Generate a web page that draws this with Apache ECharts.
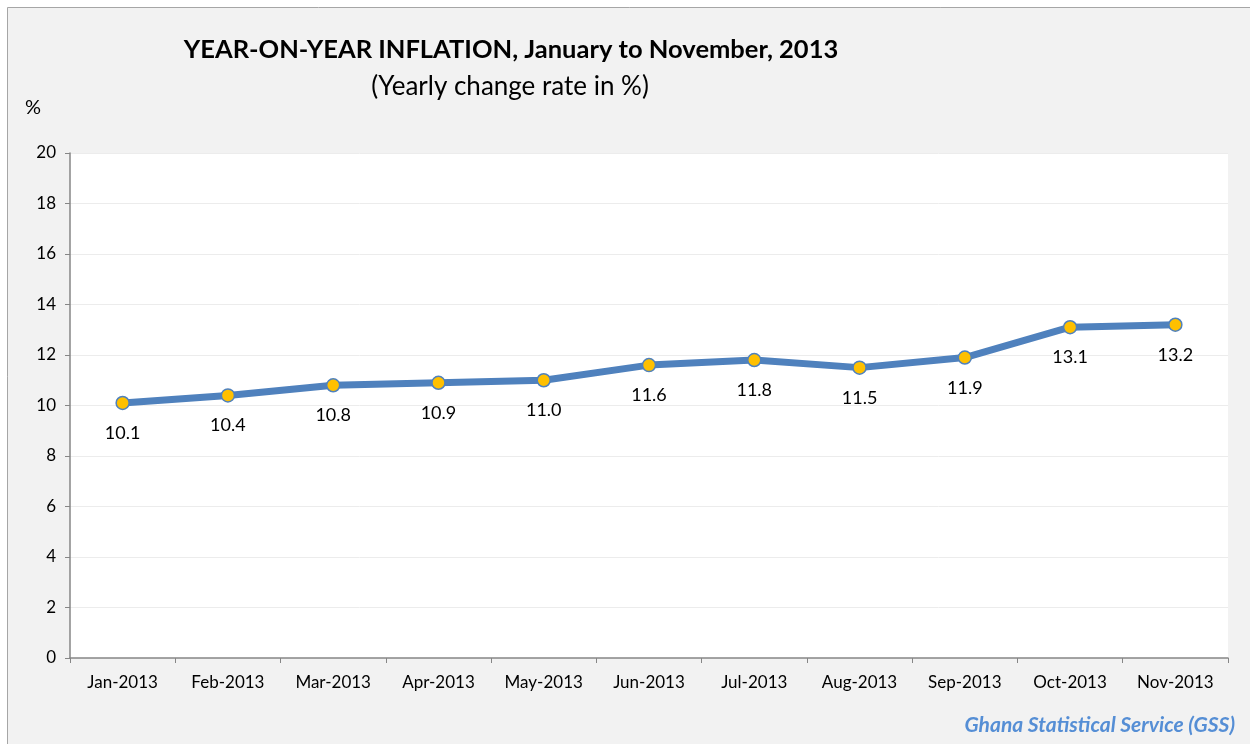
<!DOCTYPE html>
<html><head><meta charset="utf-8">
<script src="https://cdn.jsdelivr.net/npm/echarts@6/dist/echarts.min.js"></script>
<style>html,body{margin:0;padding:0;background:#fff;}#c{width:1250px;height:744px;}</style>
</head><body><div id="c"></div>
<script>
const categories = ['Jan-2013','Feb-2013','Mar-2013','Apr-2013','May-2013','Jun-2013','Jul-2013','Aug-2013','Sep-2013','Oct-2013','Nov-2013'];
const inflation = [10.1, 10.4, 10.8, 10.9, 11.0, 11.6, 11.8, 11.5, 11.9, 13.1, 13.2];
const titleText = 'YEAR-ON-YEAR INFLATION, January to November, 2013';
const subtitleText = '(Yearly change rate in %)';
const sourceText = 'Ghana Statistical Service (GSS)';
const FONT = 'Lato, "Open Sans", sans-serif';

const chart = echarts.init(document.getElementById('c'), null, {renderer:'canvas'});
chart.setOption({
  backgroundColor: '#ffffff',
  animation: false,
  graphic: [
    {type:'rect', z:-10, shape:{x:7.5, y:7.5, width:1300, height:800},
     style:{fill:'#f2f2f2', stroke:'#a6a6a6', lineWidth:1}},
    {type:'text', x:511, y:50, style:{text:titleText, font:'bold 25.5px '+FONT, fill:'#000', textAlign:'center', textVerticalAlign:'middle'}},
    {type:'text', x:510, y:87, style:{text:subtitleText, font:'26px '+FONT, fill:'#000', textAlign:'center', textVerticalAlign:'middle'}},
    {type:'text', x:25, y:108, style:{text:'%', font:'20px '+FONT, fill:'#000', textVerticalAlign:'middle'}},
    {type:'text', x:1235, y:725, style:{text:sourceText, font:'italic bold 21px '+FONT, fill:'#558ed5', textAlign:'right', textVerticalAlign:'middle'}}
  ],
  grid: {left:70, right:22, top:153, bottom:86, show:true, backgroundColor:'#ffffff', borderWidth:0},
  xAxis: {
    type:'category', data:categories, boundaryGap:true,
    axisLine:{lineStyle:{color:'#868686', width:1.5}},
    axisTick:{show:true, length:5, lineStyle:{color:'#868686'}},
    axisLabel:{color:'#000', fontSize:17, fontFamily:FONT, margin:16}
  },
  yAxis: {
    type:'value', min:0, max:20, interval:2,
    axisLine:{show:true, lineStyle:{color:'#868686', width:1.5}},
    axisTick:{show:true, length:5, lineStyle:{color:'#868686'}},
    axisLabel:{color:'#000', fontSize:17, fontFamily:FONT, margin:14},
    splitLine:{lineStyle:{color:'#ececec', width:1}}
  },
  series: [{
    type:'line', data:inflation,
    lineStyle:{color:'#4f81bd', width:7},
    symbol:'circle', symbolSize:13,
    itemStyle:{color:'#ffc000', borderColor:'#4f81bd', borderWidth:1.5},
    label:{show:true, position:'bottom', distance:14, color:'#000', fontSize:18, fontFamily:FONT,
      formatter:p=>p.value.toFixed(1)}
  }]
});
</script></body></html>
